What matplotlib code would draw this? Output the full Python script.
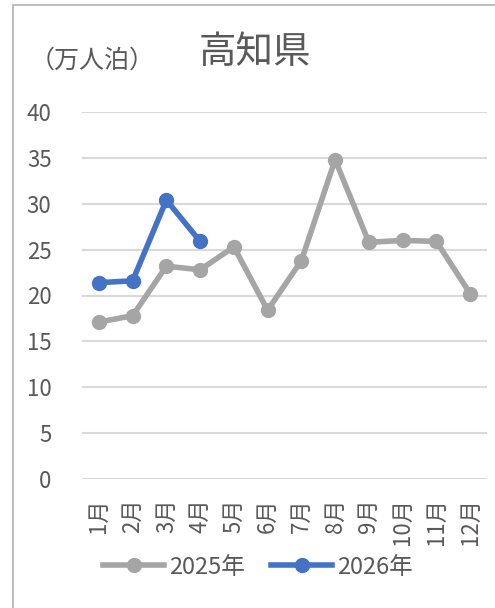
import matplotlib
matplotlib.use('Agg')
import matplotlib.pyplot as plt
from matplotlib.lines import Line2D

plt.rcParams['font.family'] = ['Noto Sans CJK JP', 'DejaVu Sans']

months = ['1月', '2月', '3月', '4月', '5月', '6月', '7月', '8月', '9月', '10月', '11月', '12月']
vals_2025 = [17.1, 17.8, 23.2, 22.8, 25.3, 18.4, 23.8, 34.8, 25.8, 26.0, 25.9, 20.2]
vals_2026 = [21.4, 21.6, 30.4, 25.9]
yticks = [0, 5, 10, 15, 20, 25, 30, 35, 40]

TXT = '#595959'
GRAY = '#A5A5A5'
BLUE = '#4472C4'

fig = plt.figure(figsize=(4.95, 6.08), dpi=100)
ax = fig.add_axes([82 / 495, 1 - 479 / 608, (487 - 82) / 495, (479 - 112) / 608])

x = list(range(len(months)))
ax.plot(x, vals_2025, color=GRAY, lw=4, marker='o', ms=10, label='2025年', zorder=3)
ax.plot(x[:len(vals_2026)], vals_2026, color=BLUE, lw=4, marker='o', ms=10, label='2026年', zorder=4)

ax.set_xlim(-0.5, len(months) - 0.5)
ax.set_ylim(0, 40)
ax.set_yticks(yticks)
ax.set_xticks(x)
ax.set_xticklabels(months, rotation=90)
ax.grid(axis='y', color='#D9D9D9', lw=1.5)
ax.set_axisbelow(True)
for s in ax.spines.values():
    s.set_visible(False)
ax.tick_params(axis='y', length=0, pad=22, labelsize=16, labelcolor=TXT)
ax.tick_params(axis='x', length=0, pad=14, labelsize=16, labelcolor=TXT)

fig.text(255 / 495, 1 - 53 / 608, '高知県', ha='center', va='center', fontsize=27, color=TXT)
fig.text(92 / 495, 1 - 61 / 608, '（万人泊）', ha='center', va='center', fontsize=18, color=TXT)

fig.legend(loc='center', bbox_to_anchor=(258 / 495, 1 - 567 / 608), ncol=2, frameon=False,
           fontsize=17, labelcolor=TXT, handlelength=2.6, handletextpad=0.2, columnspacing=1.1)

# outer chart border (left and top only visible in the crop)
fig.add_artist(Line2D([13 / 495, 13 / 495], [0, 1 - 5 / 608], transform=fig.transFigure, color='#BFBFBF', lw=1.5))
fig.add_artist(Line2D([13 / 495, 1], [1 - 5 / 608, 1 - 5 / 608], transform=fig.transFigure, color='#BFBFBF', lw=1.5))

fig.savefig('out.png', dpi=100)
